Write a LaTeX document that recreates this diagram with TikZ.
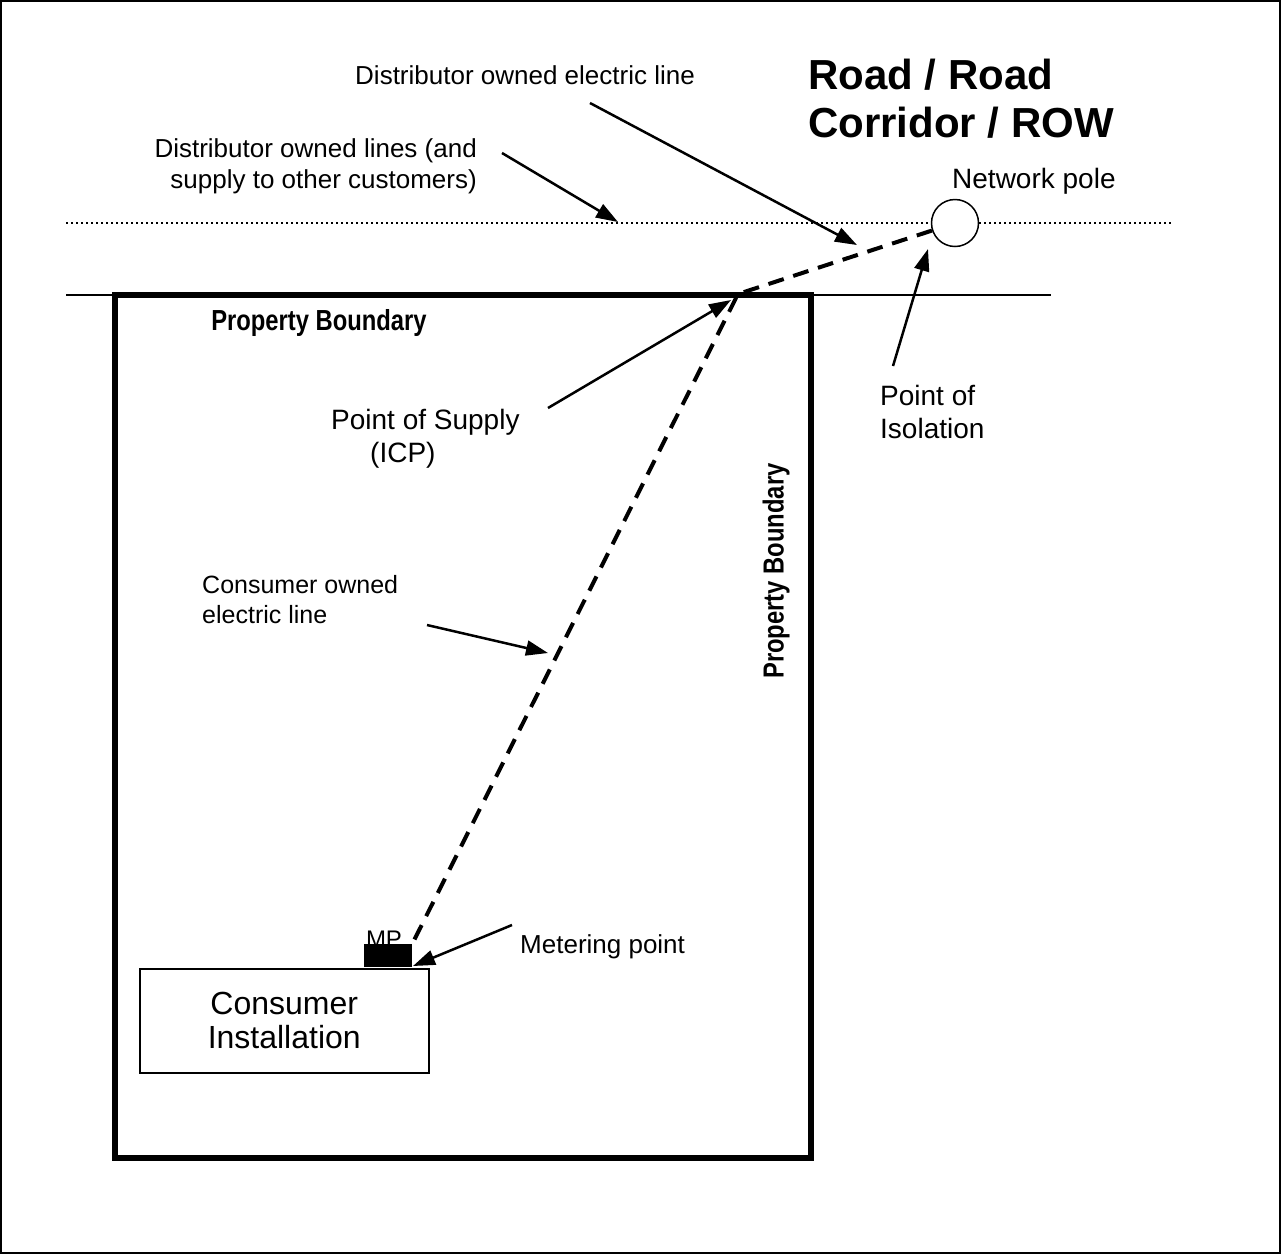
\documentclass[tikz,border=0pt]{standalone}
\usepackage{fontspec}
\setmainfont{Liberation Sans}
\usetikzlibrary{arrows.meta,positioning}

\begin{document}
\begin{tikzpicture}[x=1pt, y=-1pt,
  >={Triangle[length=22pt,width=15pt]},
  every node/.style={inner sep=0pt},
  lbl/.style={font=\fontsize{26}{31}\selectfont, align=left},
  big/.style={font=\fontsize{28}{33}\selectfont, align=left},
  arr/.style={->, line width=2.5pt},
  feeder/.style={line width=4pt, dash pattern=on 16pt off 10pt},
  bnd/.style={font=\fontsize{29}{34}\selectfont\bfseries, xscale=0.82},
  thin/.style={line width=1.5pt}
]
  \useasboundingbox (0,0) rectangle (1281,1254);
  \draw[thin] (1,1) rectangle (1280,1253);

  % road side
  \node[draw, circle, thin, minimum size=47pt] (pole) at (955,223) {};
  \coordinate (dl0) at (66,223);
  \coordinate (dl1) at (1173,223);
  \draw[line width=2pt, dash pattern=on 2pt off 3pt] (dl0) -- (pole.west);
  \draw[line width=2pt, dash pattern=on 2pt off 3pt] (pole.east) -- (dl1);
  \coordinate (rb0) at (66,295);
  \coordinate (rb1) at (1051,295);
  \draw[thin] (rb0) -- (rb1);

  % property
  \draw[line width=6pt] (115,295) rectangle (811,1158);
  \node[bnd] (pbtop) at (319,323) {Property Boundary};
  \node[rotate=90, bnd] (pbside) at (776,571) {Property Boundary};

  % consumer side
  \node[font=\fontsize{24}{28}\selectfont] (mptext) at (384,939) {MP};
  \node[fill=black, minimum width=48pt, minimum height=23pt, anchor=south west] (mp) at (364,967) {};
  \node[draw, thin, minimum width=289pt, minimum height=104pt, anchor=north west,
        font=\fontsize{32}{34}\selectfont, align=center] (inst) at (139,968) {Consumer\\Installation};

  \coordinate (icp) at (738,294);
  \draw[feeder] (pole) -- (icp) -- (mp.north east);

  % labels
  \node[lbl, anchor=base] (delec) at (525,84) {Distributor owned electric line};
  \node[lbl, align=right, anchor=north east] (dlines) at (477,138) {Distributor owned lines (and\\supply to other customers)};
  \node[font=\fontsize{42}{48}\selectfont\bfseries, align=left, anchor=north west] (road) at (808,59) {Road / Road\\Corridor / ROW};
  \node[big, anchor=base west] (polelbl) at (952,188) {Network pole};
  \node[big, anchor=north west] (supply) at (331,409) {Point of Supply\\\hspace*{39pt}(ICP)};
  \node[big, anchor=north west] (isol) at (880,385) {Point of\\Isolation};
  \node[lbl, font=\fontsize{25}{30}\selectfont, anchor=north west] (cons) at (202,575) {Consumer owned\\electric line};
  \node[lbl, anchor=base west] (meter) at (520,953) {Metering point};

  % pointers
  \coordinate (p1s) at (502,153);  \coordinate (p1e) at (618,222);
  \coordinate (p2s) at (590,103);  \coordinate (p2e) at (857,245);
  \coordinate (p3s) at (548,408);  \coordinate (p3e) at (731,300);
  \coordinate (p4s) at (893,366);  \coordinate (p4e) at (928,249);
  \coordinate (p5s) at (427,625);  \coordinate (p5e) at (548,653);
  \coordinate (p6s) at (512,925);  \coordinate (p6e) at (413,966);
  \draw[arr] (p1s) -- (p1e);
  \draw[arr] (p2s) -- (p2e);
  \draw[arr] (p3s) -- (p3e);
  \draw[arr] (p4s) -- (p4e);
  \draw[arr] (p5s) -- (p5e);
  \draw[arr] (p6s) -- (p6e);
\end{tikzpicture}
\end{document}
